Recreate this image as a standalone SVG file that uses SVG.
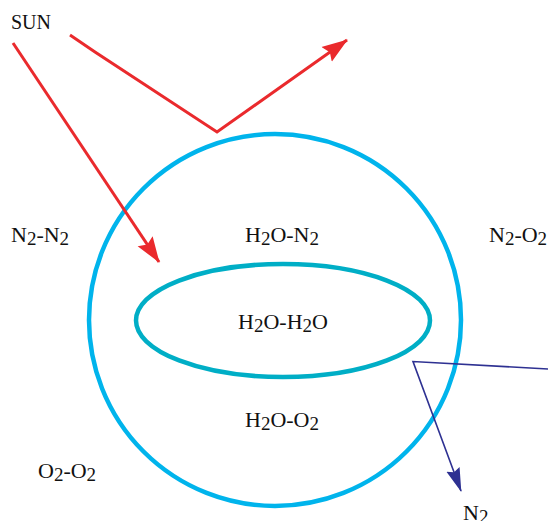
<svg xmlns="http://www.w3.org/2000/svg" width="548" height="521" viewBox="0 0 548 521">
<style>
text{font-family:"Liberation Serif","Times New Roman",serif;font-size:22px;fill:#111}
.s{font-size:19px}
.red{fill:none;stroke:#ea2a2d;stroke-width:3}
.blue{fill:none;stroke:#2e3192;stroke-width:1.6}
</style>
<defs>
<marker id="ar" markerUnits="userSpaceOnUse" markerWidth="26" markerHeight="20" viewBox="0 0 26 20" refX="25" refY="10" orient="auto">
<path d="M0,1 L26,10 L0,19 L4,10 z" fill="#ea2a2d"/>
</marker>
<marker id="ab" markerUnits="userSpaceOnUse" markerWidth="24" markerHeight="16" viewBox="0 0 24 16" refX="23" refY="8" orient="auto">
<path d="M0,1 L24,8 L0,15 L3,8 z" fill="#2e3192"/>
</marker>
</defs>
<g id="atmosphere">
<circle cx="275" cy="320" r="186" fill="none" stroke="#00b4ec" stroke-width="4.5"/>
</g>
<g id="cloud">
<ellipse cx="283" cy="320.5" rx="147" ry="56.5" fill="none" stroke="#00aec6" stroke-width="4.5"/>
</g>
<g id="connectors">
<line class="red" x1="13" y1="43" x2="159" y2="262" marker-end="url(#ar)"/>
<polyline class="red" points="70,35 95,52 217,132 347,40" marker-end="url(#ar)"/>
<polyline class="blue" points="548,369 413,361.5 461,491" marker-end="url(#ab)"/>
</g>
<g id="labels">
<text x="11" y="29" style="font-size:20px">SUN</text>
<text x="11" y="242">N<tspan class="s" dy="3">2</tspan><tspan dy="-3">-N</tspan><tspan class="s" dy="3">2</tspan></text>
<text x="282" y="242" text-anchor="middle">H<tspan class="s" dy="3">2</tspan><tspan dy="-3">O-N</tspan><tspan class="s" dy="3">2</tspan></text>
<text x="489" y="242">N<tspan class="s" dy="3">2</tspan><tspan dy="-3">-O</tspan><tspan class="s" dy="3">2</tspan></text>
<text x="283" y="329" text-anchor="middle">H<tspan class="s" dy="3">2</tspan><tspan dy="-3">O-H</tspan><tspan class="s" dy="3">2</tspan><tspan dy="-3">O</tspan></text>
<text x="282" y="427" text-anchor="middle">H<tspan class="s" dy="3">2</tspan><tspan dy="-3">O-O</tspan><tspan class="s" dy="3">2</tspan></text>
<text x="38" y="478">O<tspan class="s" dy="3">2</tspan><tspan dy="-3">-O</tspan><tspan class="s" dy="3">2</tspan></text>
<text x="463" y="520">N<tspan class="s" dy="3">2</tspan></text>
</g>
</svg>
